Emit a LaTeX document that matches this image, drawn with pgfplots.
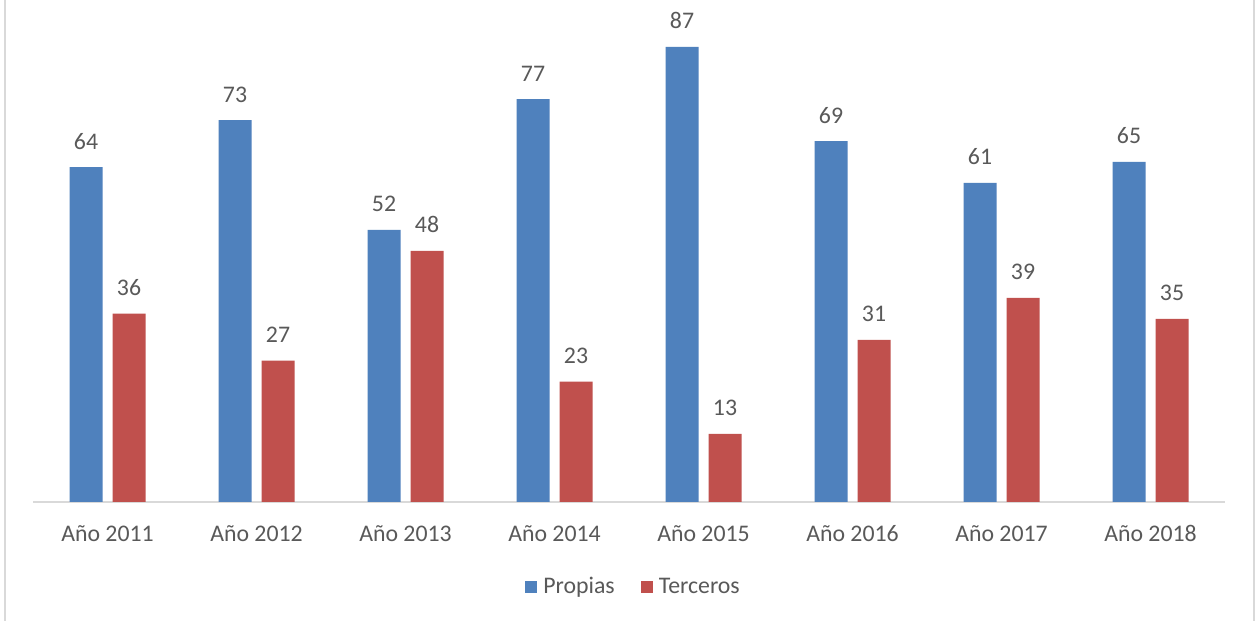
\documentclass[border=0pt]{standalone}
\usepackage{pgfplots}
\pgfplotsset{compat=1.18}
\usepackage{fontspec}
\setmainfont{Carlito}
\definecolor{cblue}{HTML}{4F81BD}
\definecolor{cred}{HTML}{C0504D}
\definecolor{ctext}{HTML}{595959}
\definecolor{cline}{HTML}{D9D9D9}
\begin{document}
\begin{tikzpicture}
\useasboundingbox (0,0) rectangle (627.5pt,310.5pt);
\fill[white] (0,0) rectangle (627.5pt,310.5pt);
\draw[cline, line width=1pt] (2.5pt,0) -- (2.5pt,310.5pt);
\draw[cline, line width=1pt] (626.8pt,0) -- (626.8pt,310.5pt);
\begin{axis}[
  at={(16.5pt,59.5pt)}, anchor=south west,
  scale only axis, width=596pt, height=248.5pt,
  xmin=-0.5, xmax=7.5, ymin=0, ymax=95,
  clip=false,
  hide y axis,
  axis x line*=bottom,
  x axis line style={cline, line width=0.75pt, -},
  /pgf/number format/assume math mode=true,
  xtick=data,
  xticklabels={Año 2011,Año 2012,Año 2013,Año 2014,Año 2015,Año 2016,Año 2017,Año 2018},
  major tick length=0pt,
  xticklabel style={anchor=base, yshift=-20pt, inner sep=0pt, text=ctext, font=\fontsize{11.9}{14}\selectfont},
  ybar=5pt, bar width=16.5pt,
  nodes near coords,
  every node near coord/.append style={anchor=base, inner sep=0pt, yshift=9pt, text=ctext, font=\fontsize{11.9}{14}\selectfont},
  legend columns=2,
  legend style={at={(0.5055,-0.171)}, anchor=center, draw=none, fill=none,
    font=\fontsize{11.9}{14}\selectfont, text=ctext,
    nodes={inner sep=3pt},
    /tikz/every even column/.append style={column sep=10pt}},
  legend image code/.code={\path[#1,draw=none] (0pt,-3pt) rectangle (6pt,3pt);},
]
\addplot[fill=cblue, draw=none] coordinates {(0,64) (1,73) (2,52) (3,77) (4,87) (5,69) (6,61) (7,65)};
\addplot[fill=cred, draw=none] coordinates {(0,36) (1,27) (2,48) (3,23) (4,13) (5,31) (6,39) (7,35)};
\legend{Propias,Terceros}
\end{axis}
\end{tikzpicture}
\end{document}
